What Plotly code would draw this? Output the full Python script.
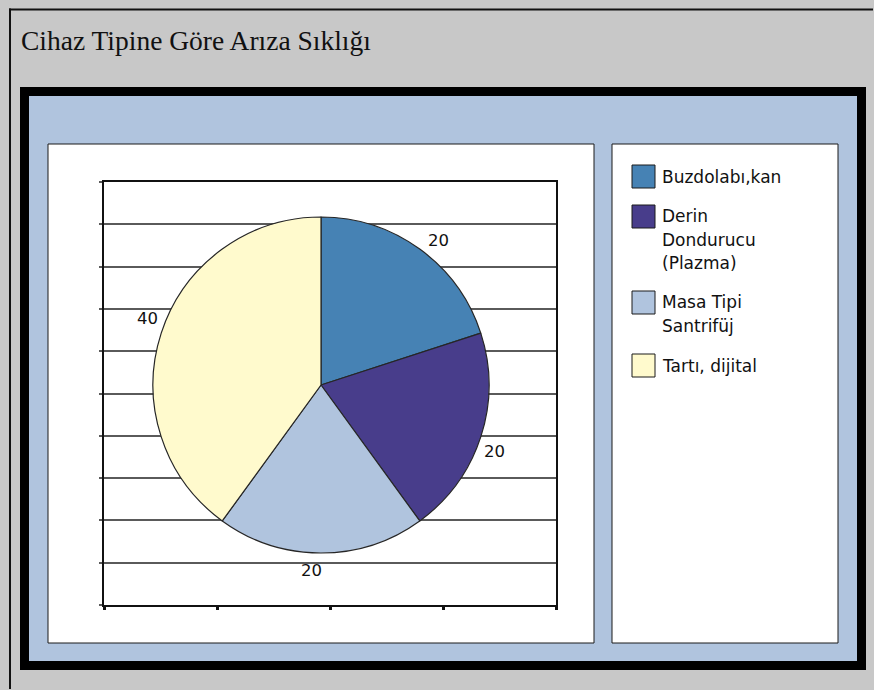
import math
import plotly.graph_objects as go

# Failure counts per device type
categories = ["Buzdolabı,kan", "Derin Dondurucu (Plazma)", "Masa Tipi Santrifüj", "Tartı, dijital"]
counts = [20, 20, 20, 40]
legend_lines = [["Buzdolabı,kan"], ["Derin", "Dondurucu", "(Plazma)"], ["Masa Tipi", "Santrifüj"], ["Tartı, dijital"]]
slice_colors = ["#4682B4", "#483D8B", "#B0C4DE", "#FFFACD"]
title_text = "Cihaz Tipine Göre Arıza Sıklığı"

W, H = 874, 690


def fx(x):
    return x / W


def fy(y):
    return 1 - y / H


# pie placement (pixels)
cx, cy, r = 321, 385, 168

fig = go.Figure()

# empty cartesian trace so the gridded backdrop axes are drawn
fig.add_trace(go.Scatter(x=[], y=[], showlegend=False, hoverinfo="skip"))

fig.add_trace(go.Pie(
    labels=categories,
    values=counts,
    sort=False,
    direction="clockwise",
    rotation=0,
    marker=dict(colors=slice_colors, line=dict(color="#262626", width=1.2)),
    textinfo="none",
    hoverinfo="label+value",
    showlegend=False,
    domain=dict(x=[fx(cx - r), fx(cx + r)], y=[fy(cy + r), fy(cy - r)]),
))

shapes = [
    # thin outer window edge along the top and left
    dict(type="rect", xref="paper", yref="paper", x0=fx(9), y0=fy(8.5), x1=fx(W - 1), y1=fy(10.5),
         line=dict(width=0), fillcolor="#111111", layer="below"),
    dict(type="rect", xref="paper", yref="paper", x0=fx(9), y0=fy(8.5), x1=fx(11), y1=fy(H - 1),
         line=dict(width=0), fillcolor="#111111", layer="below"),
    # heavy black frame
    dict(type="rect", xref="paper", yref="paper", x0=fx(20), y0=fy(87), x1=fx(866), y1=fy(670),
         line=dict(width=0), fillcolor="#000000", layer="below"),
    dict(type="rect", xref="paper", yref="paper", x0=fx(29), y0=fy(96), x1=fx(857), y1=fy(661),
         line=dict(width=0), fillcolor="#B0C4DE", layer="below"),
    # chart panel
    dict(type="rect", xref="paper", yref="paper", x0=fx(48), y0=fy(144), x1=fx(594), y1=fy(643),
         line=dict(color="#1a1a1a", width=1), fillcolor="#FFFFFF", layer="below"),
    # legend panel
    dict(type="rect", xref="paper", yref="paper", x0=fx(612), y0=fy(144), x1=fx(838), y1=fy(643),
         line=dict(color="#1a1a1a", width=1), fillcolor="#FFFFFF", layer="below"),
]

annotations = [
    dict(text=title_text, x=fx(19), y=fy(40), xref="paper", yref="paper",
         xanchor="left", yanchor="middle", showarrow=False,
         font=dict(family="Liberation Serif", size=27.5, color="#111111")),
]

# legend entries: swatch + wrapped label
line_h, gap, top = 23, 17, 165
for name_lines, col in zip(legend_lines, slice_colors):
    shapes.append(dict(type="rect", xref="paper", yref="paper",
                       x0=fx(632), y0=fy(top), x1=fx(655), y1=fy(top + 23),
                       line=dict(color="#1a1a1a", width=1), fillcolor=col, layer="above"))
    for k, txt in enumerate(name_lines):
        annotations.append(dict(text=txt, x=fx(660), y=fy(top + 11.5 + k * line_h), xref="paper", yref="paper",
                                xanchor="left", yanchor="middle", showarrow=False,
                                font=dict(family="DejaVu Sans", size=17, color="#111111")))
    top += len(name_lines) * line_h + gap

# value labels just outside each slice
total = sum(counts)
label_r, shift = 186, 3
cum = 0
for v in counts:
    mid = math.radians((cum + v / 2) / total * 360 + shift)
    cum += v
    lx = cx + label_r * math.sin(mid)
    ly = cy - label_r * math.cos(mid)
    annotations.append(dict(text=str(v), x=fx(lx), y=fy(ly), xref="paper", yref="paper",
                            xanchor="center", yanchor="middle", showarrow=False,
                            font=dict(family="DejaVu Sans", size=16.5, color="#111111")))

fig.update_layout(
    width=W, height=H,
    margin=dict(l=0, r=0, t=0, b=0),
    paper_bgcolor="#C8C8C8",
    plot_bgcolor="#FFFFFF",
    shapes=shapes,
    annotations=annotations,
    showlegend=False,
    xaxis=dict(domain=[fx(104), fx(556)], range=[0, 4], tickvals=[0, 1, 2, 3, 4],
               showgrid=False, zeroline=False, showticklabels=False,
               ticks="outside", ticklen=3, tickwidth=3, tickcolor="#111111",
               showline=True, linecolor="#111111", linewidth=1.5, mirror=True, fixedrange=True),
    yaxis=dict(domain=[fy(605), fy(182)], range=[0, 10], dtick=1,
               showgrid=True, gridcolor="#5a5a5a", gridwidth=1.8, zeroline=False, showticklabels=False,
               ticks="outside", ticklen=3, tickwidth=1.8, tickcolor="#5a5a5a",
               showline=True, linecolor="#111111", linewidth=1.5, mirror=True, fixedrange=True),
)

fig.write_html("out.html")
